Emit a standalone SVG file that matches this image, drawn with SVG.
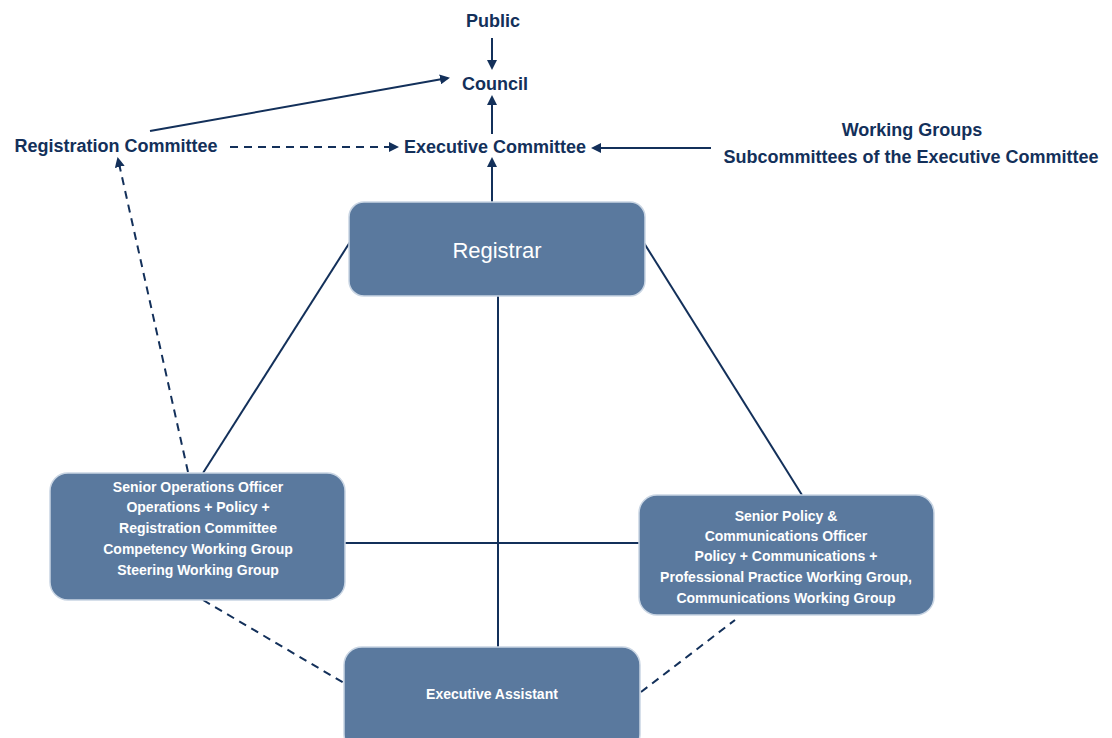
<svg xmlns="http://www.w3.org/2000/svg" width="1112" height="738" viewBox="0 0 1112 738">
<style>
.lbl{font-family:"Liberation Sans Narrow","Liberation Sans",Arial,sans-serif;font-weight:bold;fill:#13305a;font-size:18px;text-anchor:middle}
.box{fill:#5a799e;stroke:#c9d5e3;stroke-width:1.5}
.bt{font-family:"Liberation Sans Narrow","Liberation Sans",Arial,sans-serif;font-weight:bold;fill:#fff;font-size:14px;text-anchor:middle}
.ln{stroke:#13305a;stroke-width:2;fill:none}
.dash{stroke-dasharray:8 6}
</style>
<defs>
<marker id="ah" markerWidth="10" markerHeight="10" refX="8" refY="5" orient="auto" markerUnits="userSpaceOnUse">
<path d="M0,0 L10,5 L0,10 z" fill="#13305a"/>
</marker>
</defs>
<g id="connectors">
<line class="ln" x1="492" y1="38" x2="492" y2="68" marker-end="url(#ah)"/>
<line class="ln" x1="492" y1="134" x2="492" y2="97" marker-end="url(#ah)"/>
<line class="ln" x1="492" y1="202" x2="492" y2="159" marker-end="url(#ah)"/>
<line class="ln" x1="150" y1="131" x2="448" y2="78" marker-end="url(#ah)"/>
<line class="ln dash" x1="230" y1="147" x2="397" y2="147" marker-end="url(#ah)"/>
<line class="ln" x1="711" y1="148" x2="593" y2="148" marker-end="url(#ah)"/>
<line class="ln dash" x1="188" y1="472" x2="118" y2="159" marker-end="url(#ah)"/>
<line class="ln" x1="350" y1="242" x2="203" y2="473"/>
<line class="ln" x1="644" y1="243" x2="802" y2="495"/>
<line class="ln" x1="498" y1="296" x2="498" y2="647"/>
<line class="ln" x1="345" y1="543" x2="639" y2="543"/>
<line class="ln dash" x1="203" y1="600" x2="344" y2="683"/>
<line class="ln dash" x1="641" y1="692" x2="735" y2="620"/>
</g>
<g id="public"><text class="lbl" x="493" y="27">Public</text></g>
<g id="council"><text class="lbl" x="495" y="90">Council</text></g>
<g id="exec-committee"><text class="lbl" x="495" y="153">Executive Committee</text></g>
<g id="registration-committee"><text class="lbl" x="116" y="152">Registration Committee</text></g>
<g id="working-groups">
<text class="lbl" x="912" y="136">Working Groups</text>
<text class="lbl" x="911" y="163">Subcommittees of the Executive Committee</text>
</g>
<g id="registrar">
<rect class="box" x="349" y="202" width="296" height="94" rx="15"/>
<text x="497" y="258" style="font-family:'Liberation Sans',Arial,sans-serif;font-size:22px;fill:#fff;text-anchor:middle">Registrar</text>
</g>
<g id="senior-ops">
<rect class="box" x="50" y="473" width="295" height="127" rx="18"/>
<text class="bt" x="198" y="492">Senior Operations Officer</text>
<text class="bt" x="198" y="512">Operations + Policy +</text>
<text class="bt" x="198" y="533">Registration Committee</text>
<text class="bt" x="198" y="554">Competency Working Group</text>
<text class="bt" x="198" y="575">Steering Working Group</text>
</g>
<g id="senior-policy">
<rect class="box" x="639" y="495" width="295" height="120" rx="18"/>
<text class="bt" x="786" y="521">Senior Policy &amp;</text>
<text class="bt" x="786" y="541">Communications Officer</text>
<text class="bt" x="786" y="561">Policy + Communications +</text>
<text class="bt" x="786" y="582">Professional Practice Working Group,</text>
<text class="bt" x="786" y="603">Communications Working Group</text>
</g>
<g id="exec-assistant">
<rect class="box" x="344" y="647" width="296" height="105" rx="18"/>
<text class="bt" x="492" y="699">Executive Assistant</text>
</g>
</svg>
